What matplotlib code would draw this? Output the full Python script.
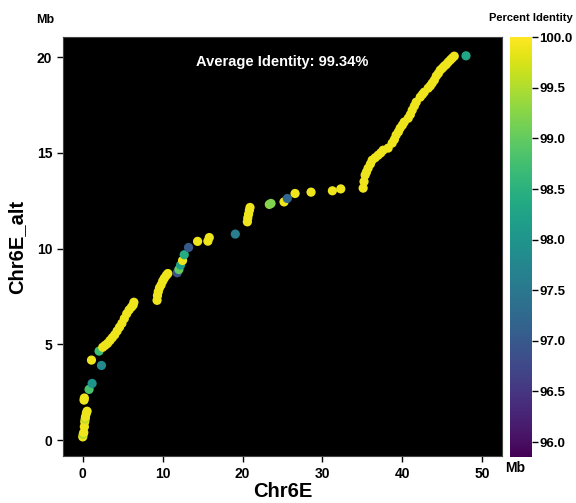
import numpy as np
import matplotlib.pyplot as plt
from matplotlib import cm, colors

plt.rcParams['font.family'] = ['Liberation Sans', 'DejaVu Sans']
plt.rcParams['font.weight'] = 'bold'

# alignment positions (Mb) on Chr6E (x) and Chr6E_alt (y), with percent identity
ref_pos = [0.0, 0.05, 0.13, 0.2, 0.25, 0.3, 0.34, 0.45, 0.54, 0.16, 0.2,
           0.79, 1.17, 2.34, 1.09, 2.04,
           2.5, 2.8, 3.1, 3.4, 3.7, 4.0, 4.3, 4.6, 4.9, 5.2, 5.5, 5.8, 6.1, 6.3, 6.4,
           9.3, 9.35, 9.45, 9.6, 9.8, 10.0, 10.2, 10.45, 10.65,
           11.82, 12.03, 12.24, 12.49, 12.7, 13.24,
           14.37, 15.66, 15.83, 19.09,
           20.6, 20.65, 20.75, 20.85, 20.93,
           23.35, 23.56, 25.19, 25.6, 26.57, 28.57, 31.24, 32.29,
           35.09, 35.2, 35.34, 35.5, 35.71, 36.0, 36.22, 36.6, 36.97, 37.3, 37.59,
           38.22, 38.72, 39.0, 39.22, 39.5, 39.72, 40.0, 40.23, 40.73, 41.0, 41.23,
           41.5, 41.73, 42.23, 42.5, 42.73, 43.23, 43.5, 43.73, 44.0, 44.24, 44.5,
           44.74, 45.0, 45.24, 45.5, 45.74, 46.0, 46.24, 46.49,
           47.96]
alt_pos = [0.17, 0.3, 0.4, 0.7, 0.96, 1.1, 1.22, 1.4, 1.51, 2.09, 2.2,
           2.65, 2.96, 3.90, 4.18, 4.65,
           4.85, 4.95, 5.05, 5.2, 5.35, 5.5, 5.7, 5.9, 6.1, 6.35, 6.6, 6.8, 6.95, 7.05, 7.2,
           7.3, 7.55, 7.75, 7.95, 8.1, 8.3, 8.45, 8.6, 8.7,
           8.74, 8.91, 9.14, 9.38, 9.68, 10.06,
           10.38, 10.39, 10.58, 10.76,
           11.4, 11.6, 11.8, 12.0, 12.15,
           12.31, 12.36, 12.44, 12.62, 12.88, 12.95, 13.02, 13.12,
           13.16, 13.5, 13.84, 14.0, 14.2, 14.42, 14.62, 14.75, 14.88, 15.0, 15.14,
           15.25, 15.51, 15.7, 15.93, 16.1, 16.29, 16.45, 16.61, 16.81, 17.0, 17.23,
           17.45, 17.65, 17.91, 18.05, 18.17, 18.38, 18.5, 18.64, 18.8, 19.01, 19.15,
           19.32, 19.42, 19.53, 19.62, 19.74, 19.85, 19.95, 20.05,
           20.07]
identity = [99.9, 99.5, 99.9, 99.9, 99.9, 99.6, 99.9, 99.9, 99.9, 99.9, 99.9,
            98.8, 98.0, 97.8, 99.9, 98.7,
            99.9, 99.9, 99.9, 99.9, 99.9, 99.9, 99.9, 99.9, 99.9, 99.9, 99.9, 99.9, 99.9, 99.9, 99.9,
            99.9, 99.9, 99.9, 99.9, 99.9, 99.9, 99.9, 99.9, 99.9,
            96.9, 99.0, 98.2, 99.9, 98.4, 97.0,
            99.9, 99.9, 99.9, 97.6,
            99.9, 99.9, 99.9, 99.9, 99.9,
            99.3, 99.2, 99.9, 97.2, 99.9, 99.9, 99.9, 99.9,
            99.9, 99.9, 99.9, 99.9, 99.9, 99.9, 99.9, 99.9, 99.9, 99.9, 99.9,
            99.9, 99.9, 99.9, 99.9, 99.9, 99.9, 99.9, 99.9, 99.9, 99.9, 99.9,
            99.9, 99.9, 99.9, 99.9, 99.9, 99.9, 99.9, 99.9, 99.9, 99.9, 99.9,
            99.9, 99.9, 99.9, 99.9, 99.9, 99.9, 99.9, 99.9,
            98.3]

avg_identity = 99.34
x_ticks = [0, 10, 20, 30, 40, 50]
y_ticks = [0, 5, 10, 15, 20]
cbar_ticks = [96.0, 96.5, 97.0, 97.5, 98.0, 98.5, 99.0, 99.5, 100.0]

fig = plt.figure(figsize=(5.76, 5.03), dpi=100)
ax = fig.add_axes([0.109, 0.093, 0.763, 0.833])
cax = fig.add_axes([0.885, 0.091, 0.038, 0.835])

ax.set_facecolor('black')
norm = colors.Normalize(vmin=95.85, vmax=100.0)
sc = ax.scatter(ref_pos, alt_pos, c=identity, cmap='viridis', norm=norm,
                s=44, linewidths=0)

ax.set_xlim(-2.5, 52.5)
ax.set_ylim(-0.84, 21.04)
ax.set_xticks(x_ticks)
ax.set_yticks(y_ticks)
ax.tick_params(labelsize=10, colors='black', width=1, length=4)
for lab in ax.get_xticklabels() + ax.get_yticklabels():
    lab.set_fontweight('bold')
for sp in ax.spines.values():
    sp.set_color('#444444')

ax.set_xlabel('Chr6E', fontsize=14.5, fontweight='bold', labelpad=1)
ax.set_ylabel('Chr6E_alt', fontsize=14.5, fontweight='bold', labelpad=8)
ax.text(0.5, 0.94, f'Average Identity: {avg_identity:.2f}%', transform=ax.transAxes,
        color='white', fontsize=10.5, fontweight='bold', ha='center', va='center')

fig.text(45 / 576, 1 - 20 / 503, 'Mb', fontsize=9, fontweight='bold', ha='center', va='center')
fig.text(505 / 576, 1 - 468 / 503, 'Mb', fontsize=10, fontweight='bold', ha='left', va='center')

cb = fig.colorbar(cm.ScalarMappable(norm=norm, cmap='viridis'), cax=cax)
cb.set_ticks(cbar_ticks)
cb.ax.tick_params(labelsize=9.5, length=4, width=1, pad=1.5)
for lab in cb.ax.get_yticklabels():
    lab.set_fontweight('bold')
cb.outline.set_visible(False)
fig.text(531 / 576, 1 - 18 / 503, 'Percent Identity', fontsize=8, fontweight='bold',
         ha='center', va='center')

fig.savefig('out.png', dpi=100)
